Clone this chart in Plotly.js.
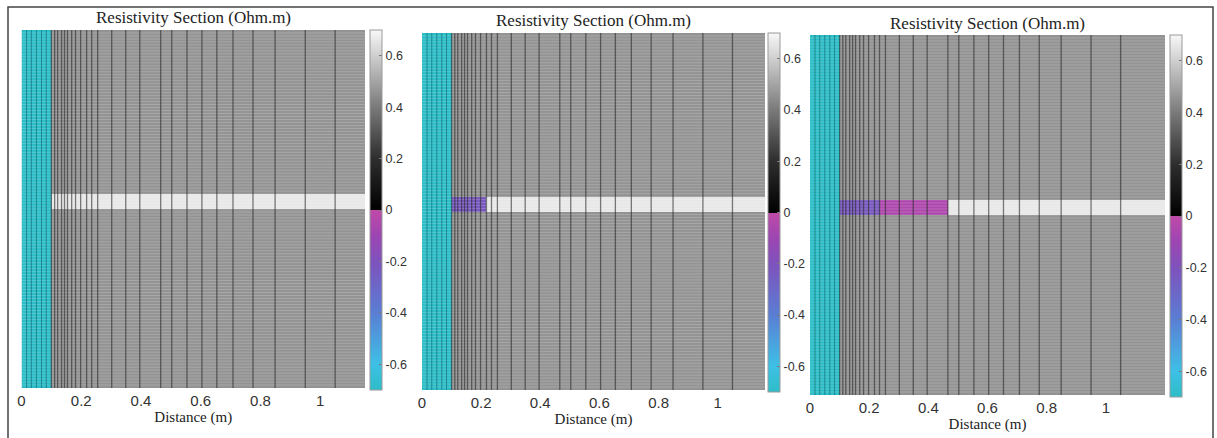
<!DOCTYPE html>
<html>
<head>
<meta charset="utf-8">
<script src="https://cdn.plot.ly/plotly-3.0.1.min.js"></script>
<style>html,body{margin:0;padding:0;background:#fff;}#chart{width:1217px;height:438px;}</style>
</head>
<body>
<div id="chart"></div>
<script>
// ---------- data ----------
const panelTitles = ["Resistivity Section (Ohm.m)", "Resistivity Section (Ohm.m)", "Resistivity Section (Ohm.m)"];
const xAxisTitle = "Distance (m)";
// mesh node positions (m) of the fine (cyan) zone and of the main section
const cyanMeshX = [0, 0.017, 0.033, 0.05, 0.067, 0.083, 0.1];
const mainMeshX = [0.1, 0.111, 0.121, 0.134, 0.144, 0.154, 0.168, 0.181, 0.198, 0.218, 0.235, 0.255, 0.302, 0.349, 0.396, 0.466, 0.503, 0.554, 0.604, 0.654, 0.708, 0.775, 0.849, 0.95, 1.05];
const sectionEnd = [1.15, 1.16, 1.2];       // right end of each section (m)
const nRows = 120;                          // number of mesh rows
const bandRows = [55, 59];                  // first / last row of the layer
// cell values
const cyanValue = -0.7;
const backgroundValue = 0.46;
const layerValue = 0.66;
// anomalous blocks inside the layer: [x start, x end, value] per panel
const panelBlocks = [
  [],
  [[0.1, 0.218, -0.23]],
  [[0.1, 0.235, -0.23], [0.235, 0.466, -0.05]]
];
const cbTicks = [-0.6, -0.4, -0.2, 0, 0.2, 0.4, 0.6];
const cbTickText = ["-0.6", "-0.4", "-0.2", "0", "0.2", "0.4", "0.6"];
const xTicks = [0, 0.2, 0.4, 0.6, 0.8, 1];
const xTickText = ["0", "0.2", "0.4", "0.6", "0.8", "1"];
const zMin = -0.7, zMax = 0.7;

// ---------- style / layout constants ----------
const W = 1217, H = 438;
const panelsPx = [
  {x0: 21.5, x1: 365, y0: 30, y1: 388, cbx: 370, cby0: 30, cby1: 390},
  {x0: 422, x1: 765, y0: 33, y1: 390, cbx: 768, cby0: 33, cby1: 392},
  {x0: 810, x1: 1165, y0: 35, y1: 395, cbx: 1170, cby0: 35, cby1: 397}
];
const colorscale = [
  [0.0, '#2dbdc7'],
  [0.0714, '#3ec0e6'],
  [0.214, '#5a7ed4'],
  [0.357, '#7e52bc'],
  [0.4286, '#9c46b2'],
  [0.4995, '#c04aa8'],
  [0.5, '#000000'],
  [0.643, '#2e2e2e'],
  [0.786, '#7a7a7a'],
  [0.929, '#cfcfcf'],
  [1.0, '#f8f8f8']
];
const serif = "'Liberation Serif', 'Times New Roman', serif";
const sans = "'Liberation Sans', Arial, sans-serif";

const traces = [];
const layout = {
  width: W, height: H,
  margin: {l: 0, r: 0, t: 0, b: 0, autoexpand: false},
  paper_bgcolor: '#ffffff',
  plot_bgcolor: '#ffffff',
  showlegend: false,
  annotations: [],
  shapes: []
};

panelsPx.forEach((p, i) => {
  const sfx = i === 0 ? '' : String(i + 1);
  const xa = 'x' + sfx, ya = 'y' + sfx;
  const edges = cyanMeshX.concat(mainMeshX.slice(1), [sectionEnd[i]]);
  const nCols = edges.length - 1;
  const z = [];
  for (let r = 0; r < nRows; r++) {
    const row = [];
    for (let c = 0; c < nCols; c++) {
      const xm = (edges[c] + edges[c + 1]) / 2;
      let v;
      if (xm < cyanMeshX[cyanMeshX.length - 1]) v = cyanValue;
      else if (r >= bandRows[0] && r <= bandRows[1]) {
        v = layerValue;
        panelBlocks[i].forEach(b => { if (xm > b[0] && xm < b[1]) v = b[2]; });
      } else v = backgroundValue;
      row.push(v);
    }
    z.push(row);
  }
  traces.push({
    type: 'heatmap', x: edges, z: z, xaxis: xa, yaxis: ya,
    zmin: zMin, zmax: zMax, colorscale: colorscale, hoverinfo: 'skip',
    colorbar: {
      x: p.cbx / W, xanchor: 'left', xref: 'paper',
      y: 1 - p.cby0 / H, yanchor: 'top', yref: 'paper',
      len: p.cby1 - p.cby0, lenmode: 'pixels',
      thickness: 12, thicknessmode: 'pixels',
      outlinewidth: 1, outlinecolor: '#9a9a9a',
      tickmode: 'array', tickvals: cbTicks, ticktext: cbTickText,
      ticks: 'inside', ticklen: 3, tickcolor: '#777',
      tickfont: {family: sans, size: 12.5, color: '#333'},
      xpad: 0, ypad: 0
    }
  });
  // horizontal mesh lines (light)
  const hx = [], hy = [];
  for (let r = 1; r < nRows; r++) { hx.push(0, sectionEnd[i], null); hy.push(r - 0.5, r - 0.5, null); }
  traces.push({type: 'scatter', mode: 'lines', x: hx, y: hy, xaxis: xa, yaxis: ya,
    line: {color: 'rgba(255,255,255,0.2)', width: 1}, hoverinfo: 'skip'});
  // vertical mesh lines, cyan zone
  const cx = [], cy = [];
  cyanMeshX.slice(1, -1).forEach(v => { cx.push(v, v, null); cy.push(-0.5, nRows - 0.5, null); });
  traces.push({type: 'scatter', mode: 'lines', x: cx, y: cy, xaxis: xa, yaxis: ya,
    line: {color: 'rgba(0,80,90,0.5)', width: 1}, hoverinfo: 'skip'});
  // vertical mesh lines, main zone
  const vx = [], vy = [];
  mainMeshX.forEach(v => { vx.push(v, v, null); vy.push(-0.5, nRows - 0.5, null); });
  traces.push({type: 'scatter', mode: 'lines', x: vx, y: vy, xaxis: xa, yaxis: ya,
    line: {color: 'rgba(40,40,40,0.6)', width: 1.3}, hoverinfo: 'skip'});

  layout['xaxis' + sfx] = {
    domain: [p.x0 / W, p.x1 / W], anchor: ya,
    range: [0, sectionEnd[i]], showgrid: false, zeroline: false, showline: false,
    tickmode: 'array', tickvals: xTicks, ticktext: xTickText, ticks: '',
    ticklabelstandoff: 2,
    tickfont: {family: sans, size: 15, color: '#333'},
    title: {text: xAxisTitle, font: {family: serif, size: 15, color: '#222'}, standoff: 0}
  };
  layout['yaxis' + sfx] = {
    domain: [1 - p.y1 / H, 1 - p.y0 / H], anchor: xa,
    range: [nRows - 0.5, -0.5], showgrid: false, zeroline: false, showline: false,
    showticklabels: false, ticks: ''
  };
  layout.annotations.push({
    text: panelTitles[i], xref: 'paper', yref: 'paper',
    x: ((p.x0 + p.x1) / 2) / W, y: 1 - (p.y0 - 12) / H,
    xanchor: 'center', yanchor: 'middle', showarrow: false,
    font: {family: serif, size: 17, color: '#222'}
  });
});

layout.shapes.push({
  type: 'rect', xref: 'paper', yref: 'paper',
  x0: 8 / W, x1: 1213 / W, y0: -0.05, y1: 1 - 7 / H,
  line: {color: '#444', width: 1.5}, fillcolor: 'rgba(0,0,0,0)', layer: 'above'
});

Plotly.newPlot('chart', traces, layout, {staticPlot: true, displayModeBar: false});
</script>
</body>
</html>
